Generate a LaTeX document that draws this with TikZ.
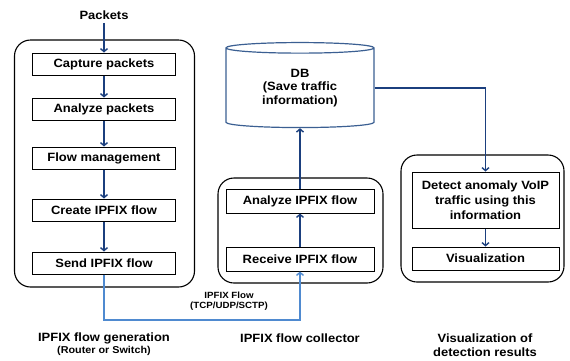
\documentclass[tikz,border=0pt]{standalone}
\usepackage{fontspec}
\setmainfont{Liberation Sans}[FakeStretch=1.08]
\usepackage{tikz}
\usetikzlibrary{shapes, arrows.meta, positioning}
\definecolor{flecha}{HTML}{1B3F7E}
\definecolor{enlace}{HTML}{4F8AD0}
\definecolor{borde}{HTML}{3B5F92}
\tikzstyle{grupo} = [draw, line width=1.1pt, rectangle, rounded corners=16pt]
\tikzstyle{paso} = [draw, line width=1pt, rectangle, font=\fontsize{12}{14}\selectfont\bfseries, inner sep=2pt]
\tikzstyle{etiqueta} = [font=\fontsize{12}{13.5}\selectfont\bfseries, align=center]
\tikzstyle{nota} = [font=\fontsize{9}{9.5}\selectfont\bfseries, align=center]
\tikzstyle{flujo} = [draw=flecha, line width=1.4pt, -{Straight Barb[length=3pt,width=7pt]}]
\tikzstyle{red} = [draw=enlace, line width=1.4pt, -{Straight Barb[length=3pt,width=7pt]}]

\begin{document}
\begin{tikzpicture}[x=1pt, y=-1pt]
	\useasboundingbox (0,0) rectangle (570,360);
	% generacion
	\node[etiqueta] (packets) at (104,15) {Packets};
	\node[grupo, minimum width=180pt, minimum height=247pt] (gen) at (104.5,163.5) {};
	\node[paso, minimum width=143pt, minimum height=22pt] (capture) at (104,64) {Capture packets};
	\node[paso, minimum width=143pt, minimum height=22pt] (analyze) at (104,109) {Analyze packets};
	\node[paso, minimum width=143pt, minimum height=22pt] (flow) at (104,158) {Flow management};
	\node[paso, minimum width=143pt, minimum height=22pt] (create) at (104,210) {Create IPFIX flow};
	\node[paso, minimum width=143pt, minimum height=22pt] (send) at (104,263) {Send IPFIX flow};
	\draw[flujo] (packets) -- (capture);
	\draw[flujo] (capture) -- (analyze);
	\draw[flujo] (analyze) -- (flow);
	\draw[flujo] (flow) -- (create);
	\draw[flujo] (create) -- (send);
	\node[etiqueta] (genlabel) at (104,338) {IPFIX flow generation};
	\node[etiqueta, font=\fontsize{10}{11}\selectfont\bfseries] (genrouter) at (104,351) {(Router or Switch)};
	% colector
	\node[cylinder, shape border rotate=90, draw=borde, line width=1.2pt, aspect=0.14, minimum width=148pt, minimum height=85pt, etiqueta, inner sep=0pt] (db) at (300,88) {DB\\(Save traffic\\information)};
	\node[grupo, minimum width=165pt, minimum height=105pt] (col) at (300.5,230.5) {};
	\node[paso, minimum width=148pt, minimum height=24pt] (analyzeipfix) at (300,201) {Analyze IPFIX flow};
	\node[paso, minimum width=148pt, minimum height=24pt] (receive) at (300,259) {Receive IPFIX flow};
	\draw[flujo] (receive) -- (analyzeipfix);
	\draw[flujo] (analyzeipfix) -- (db.bottom);
	\node[etiqueta] (collabel) at (300,338) {IPFIX flow collector};
	\coordinate (bajo) at (104,320);
	\draw[red] (send.south) -- (bajo) -| (receive.south);
	\node[nota] (proto) at (229,301) {IPFIX Flow\\(TCP/UDP/SCTP)};
	% visualizacion
	\node[grupo, minimum width=163pt, minimum height=127pt] (vis) at (482.5,218.5) {};
	\node[paso, minimum width=147pt, minimum height=56pt, align=center, font=\fontsize{12}{15}\selectfont\bfseries] (detect) at (485.5,200) {Detect anomaly VoIP\\traffic using this\\information};
	\node[paso, minimum width=147pt, minimum height=23pt] (visual) at (485.5,258.5) {Visualization};
	\draw[flujo] (db.east) -| (detect.north);
	\draw[flujo] (detect) -- (visual);
	\node[etiqueta] (vislabel) at (485,345) {Visualization of\\detection results};
\end{tikzpicture}
\end{document}
